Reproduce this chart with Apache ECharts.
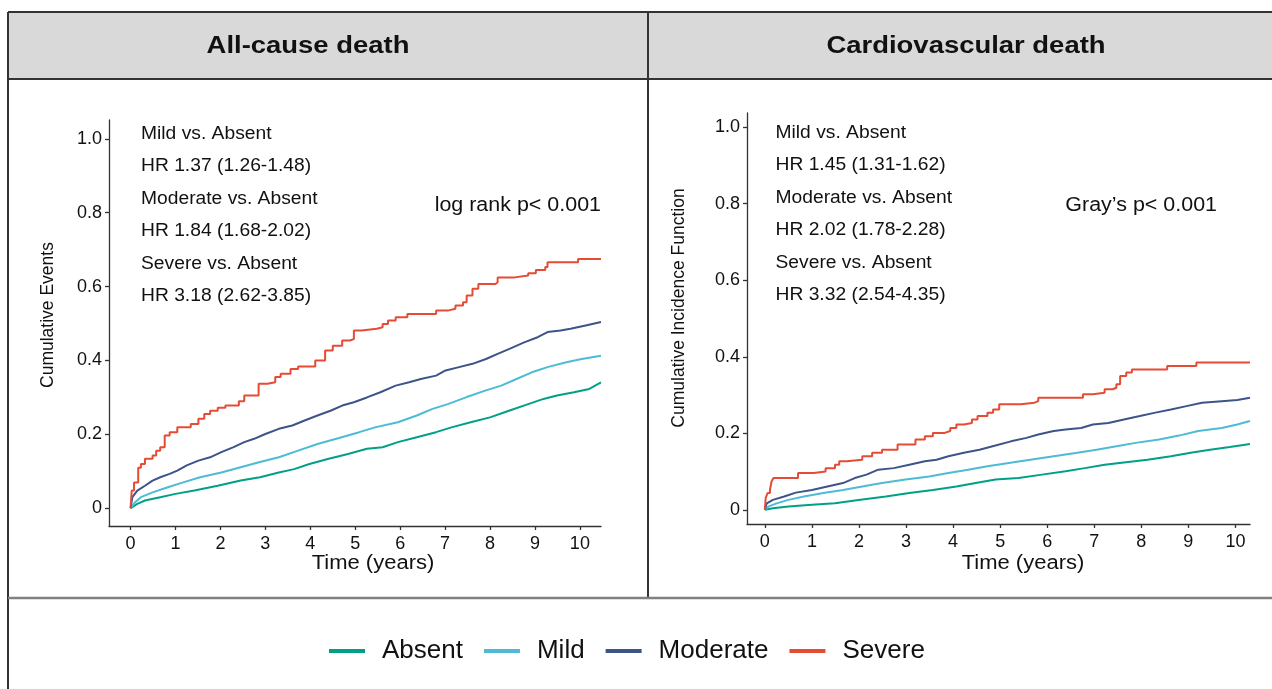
<!DOCTYPE html>
<html>
<head>
    <meta charset="utf-8">
    <title>All-cause and cardiovascular death</title>
    <script src="https://cdn.jsdelivr.net/npm/echarts@6/dist/echarts.min.js"></script>
    <style>
        html, body { margin: 0; padding: 0; background: #fff; }
        #chart { width: 1272px; height: 689px; }
    </style>
</head>
<body>
<div id="chart"></div>
<script type="text/javascript">
    // groups (legend order)
    var groups = ['Absent', 'Mild', 'Moderate', 'Severe'];
    var colors = ['#00A087', '#4DBBD5', '#3C5488', '#E64B35'];

    // tick labels
    var timeTicks = [0, 1, 2, 3, 4, 5, 6, 7, 8, 9, 10];
    var probTicks = [0, 0.2, 0.4, 0.6, 0.8, 1.0];

    // All-cause death, [years, cumulative events]
    var allAbsent = [[0,0],[0.15,0.012],[0.32,0.021],[0.66,0.03],[1.0,0.039],[1.42,0.048],[1.94,0.061],[2.45,0.075],[2.88,0.084],[3.3,0.097],[3.64,0.106],[3.98,0.12],[4.41,0.134],[4.84,0.147],[5.26,0.161],[5.61,0.165],[5.95,0.179],[6.37,0.192],[6.8,0.206],[7.14,0.219],[7.57,0.233],[8.0,0.246],[8.42,0.264],[8.85,0.282],[9.19,0.296],[9.49,0.305],[9.87,0.314],[10.21,0.323],[10.47,0.341]];
    var allMild = [[0,0],[0.1,0.016],[0.23,0.03],[0.49,0.043],[0.83,0.057],[1.17,0.07],[1.55,0.084],[2.02,0.097],[2.45,0.111],[2.88,0.125],[3.3,0.138],[3.73,0.156],[4.16,0.174],[4.58,0.188],[5.09,0.206],[5.44,0.219],[5.95,0.233],[6.37,0.251],[6.72,0.269],[7.06,0.282],[7.48,0.301],[7.91,0.319],[8.25,0.332],[8.59,0.35],[8.93,0.368],[9.28,0.382],[9.7,0.395],[10.04,0.404],[10.47,0.413]];
    var allModerate = [[0,0],[0.04,0.03],[0.15,0.048],[0.32,0.061],[0.49,0.075],[0.66,0.084],[0.87,0.093],[1.04,0.102],[1.25,0.116],[1.51,0.129],[1.77,0.138],[2.02,0.152],[2.28,0.165],[2.53,0.179],[2.75,0.188],[3.0,0.201],[3.3,0.215],[3.6,0.224],[3.86,0.237],[4.16,0.251],[4.45,0.264],[4.71,0.278],[4.97,0.287],[5.26,0.3],[5.56,0.314],[5.9,0.332],[6.2,0.341],[6.46,0.35],[6.8,0.359],[7.01,0.373],[7.31,0.382],[7.61,0.391],[7.91,0.404],[8.17,0.418],[8.42,0.431],[8.76,0.449],[9.06,0.463],[9.28,0.477],[9.57,0.481],[9.79,0.486],[10.13,0.495],[10.47,0.504]];
    var allSevere = [[0,0],[0.026,0.048],[0.077,0.07],[0.17,0.11],[0.23,0.12],[0.32,0.134],[0.49,0.143],[0.57,0.156],[0.66,0.165],[0.76,0.197],[0.87,0.206],[1.04,0.219],[1.34,0.228],[1.51,0.242],[1.64,0.255],[1.77,0.264],[1.94,0.272],[2.11,0.278],[2.41,0.29],[2.53,0.305],[2.85,0.337],[3.05,0.341],[3.22,0.355],[3.34,0.364],[3.56,0.377],[3.73,0.384],[4.11,0.4],[4.33,0.427],[4.5,0.44],[4.71,0.454],[4.88,0.458],[4.97,0.481],[5.14,0.486],[5.48,0.49],[5.61,0.499],[5.73,0.508],[5.9,0.517],[6.16,0.526],[6.8,0.535],[7.06,0.54],[7.23,0.549],[7.4,0.558],[7.48,0.576],[7.61,0.594],[7.74,0.607],[8.12,0.612],[8.17,0.625],[8.55,0.63],[8.85,0.636],[9.02,0.645],[9.23,0.653],[9.28,0.666],[9.96,0.675],[10.47,0.675]];

    // Cardiovascular death, [years, cumulative incidence]
    var cvAbsent = [[0,0],[0.17,0.004],[0.5,0.009],[1.0,0.013],[1.49,0.017],[1.99,0.026],[2.57,0.035],[3.07,0.044],[3.57,0.052],[4.07,0.061],[4.48,0.07],[4.9,0.079],[5.39,0.083],[5.89,0.092],[6.39,0.101],[6.8,0.109],[7.22,0.118],[7.63,0.124],[8.13,0.131],[8.63,0.14],[9.05,0.149],[9.46,0.157],[9.88,0.164],[10.31,0.172]];
    var cvMild = [[0,0],[0.08,0.009],[0.25,0.017],[0.5,0.026],[0.83,0.035],[1.24,0.044],[1.66,0.052],[2.07,0.061],[2.49,0.07],[2.99,0.079],[3.49,0.087],[3.9,0.096],[4.32,0.105],[4.73,0.114],[5.15,0.122],[5.64,0.131],[6.14,0.14],[6.64,0.149],[7.05,0.157],[7.47,0.166],[7.88,0.175],[8.38,0.184],[8.8,0.194],[9.21,0.206],[9.71,0.214],[10.04,0.223],[10.31,0.232]];
    var cvModerate = [[0,0],[0.04,0.017],[0.17,0.026],[0.41,0.035],[0.66,0.045],[1.0,0.052],[1.33,0.061],[1.66,0.07],[1.91,0.083],[2.16,0.092],[2.41,0.105],[2.74,0.109],[3.07,0.118],[3.4,0.127],[3.65,0.131],[3.9,0.14],[4.23,0.149],[4.56,0.157],[4.9,0.168],[5.23,0.179],[5.56,0.188],[5.81,0.197],[6.14,0.206],[6.39,0.21],[6.72,0.214],[6.97,0.223],[7.3,0.227],[7.63,0.236],[7.97,0.245],[8.3,0.254],[8.63,0.262],[8.96,0.271],[9.29,0.28],[9.71,0.284],[10.04,0.287],[10.31,0.293]];
    var cvSevere = [[0,0],[0.017,0.031],[0.058,0.044],[0.108,0.052],[0.141,0.074],[0.183,0.083],[0.705,0.096],[1.04,0.1],[1.29,0.109],[1.49,0.118],[1.58,0.127],[1.74,0.131],[2.07,0.14],[2.28,0.149],[2.49,0.157],[2.82,0.171],[3.2,0.184],[3.4,0.192],[3.57,0.201],[3.82,0.206],[3.94,0.214],[4.07,0.223],[4.23,0.227],[4.4,0.236],[4.52,0.245],[4.73,0.254],[4.85,0.262],[4.98,0.276],[5.44,0.28],[5.73,0.284],[5.81,0.293],[6.76,0.302],[6.97,0.306],[7.22,0.315],[7.39,0.319],[7.47,0.328],[7.55,0.35],[7.68,0.359],[7.8,0.367],[8.55,0.376],[9.17,0.385],[10.31,0.385]];

    // annotation text
    var allNotes = ['Mild vs. Absent', 'HR 1.37 (1.26-1.48)', 'Moderate vs. Absent', 'HR 1.84 (1.68-2.02)', 'Severe vs. Absent', 'HR 3.18 (2.62-3.85)'];
    var cvNotes = ['Mild vs. Absent', 'HR 1.45 (1.31-1.62)', 'Moderate vs. Absent', 'HR 2.02 (1.78-2.28)', 'Severe vs. Absent', 'HR 3.32 (2.54-4.35)'];

    var FONT = '"Liberation Sans", Arial, Helvetica, sans-serif';
    var myChart = echarts.init(document.getElementById('chart'));

    function axisX(idx, min, max) {
        return {
            type: 'value', gridIndex: idx, min: min, max: max,
            splitLine: { show: false },
            axisLine: { show: true, onZero: false, lineStyle: { color: '#333', width: 1.3 } },
            axisTick: { show: true, length: 4, customValues: timeTicks, lineStyle: { color: '#333', width: 1.3 } },
            axisLabel: { customValues: timeTicks, margin: 9, fontSize: 18, color: '#111', fontFamily: FONT }
        };
    }
    function axisY(idx, min, max) {
        return {
            type: 'value', gridIndex: idx, min: min, max: max,
            splitLine: { show: false },
            axisLine: { show: true, onZero: false, lineStyle: { color: '#333', width: 1.3 } },
            axisTick: { show: true, length: 4, customValues: probTicks, lineStyle: { color: '#333', width: 1.3 } },
            axisLabel: {
                customValues: probTicks, margin: 7, fontSize: 18, color: '#111', fontFamily: FONT,
                formatter: function (v) { return v === 0 ? '0' : v.toFixed(1); }
            }
        };
    }

    var panels = [[allAbsent, allMild, allModerate, allSevere], [cvAbsent, cvMild, cvModerate, cvSevere]];
    var series = [];
    panels.forEach(function (set, p) {
        set.forEach(function (d, i) {
            series.push({
                name: groups[i], type: 'line', xAxisIndex: p, yAxisIndex: p,
                data: d, symbol: 'none', step: i === 3 ? 'end' : false,
                color: colors[i], lineStyle: { width: 2, color: colors[i] },
                z: 3 + i
            });
        });
    });

    function txt(x, y, s, size, opt) {
        opt = opt || {};
        return {
            type: 'text', x: x, y: y, scaleX: opt.sx || 1.1, rotation: opt.rot || 0, z: 10,
            style: {
                text: s, fontSize: size, fontFamily: FONT, fontWeight: opt.bold ? 'bold' : 'normal',
                fill: '#111', align: opt.align || 'left', verticalAlign: 'middle'
            }
        };
    }
    function hline(x1, y1, x2, y2, c, w) {
        return { type: 'line', z: 1, shape: { x1: x1, y1: y1, x2: x2, y2: y2 }, style: { stroke: c, lineWidth: w } };
    }

    var noteY = [134, 166.5, 199, 231.5, 264, 296];
    var graphics = [
        { type: 'rect', z: 0, shape: { x: 8, y: 12, width: 1264, height: 67 }, style: { fill: '#d9d9d9' } },
        hline(8, 12, 1272, 12, '#333', 2),
        hline(8, 79, 1272, 79, '#333', 2),
        hline(8, 12, 8, 689, '#333', 2),
        hline(648, 12, 648, 598, '#333', 2),
        hline(8, 598, 1272, 598, '#808080', 2.5),
        txt(308, 46, 'All-cause death', 24.5, { bold: true, align: 'center', sx: 1.12 }),
        txt(966, 46, 'Cardiovascular death', 24.5, { bold: true, align: 'center', sx: 1.12 }),
        txt(601, 206, 'log rank p< 0.001', 19.5, { align: 'right' }),
        txt(1217, 206, 'Gray\u2019s p< 0.001', 19.5, { align: 'right' }),
        txt(373, 563, 'Time (years)', 20, { align: 'center' }),
        txt(1023, 563, 'Time (years)', 20, { align: 'center' }),
        txt(48, 315, 'Cumulative Events', 17.5, { align: 'center', rot: Math.PI / 2, sx: 1 }),
        txt(679, 308, 'Cumulative Incidence Function', 17.5, { align: 'center', rot: Math.PI / 2, sx: 1 })
    ];
    allNotes.forEach(function (s, i) { graphics.push(txt(141, noteY[i], s, 17.5)); });
    cvNotes.forEach(function (s, i) { graphics.push(txt(775.5, noteY[i] - 1, s, 17.5)); });

    var option = {
        animation: false,
        backgroundColor: '#fff',
        legend: {
            data: groups, left: 329, top: 638, padding: 0, icon: 'rect',
            itemWidth: 36, itemHeight: 4, itemGap: 21,
            textStyle: { fontSize: 26, color: '#111', fontFamily: FONT, padding: [0, 0, 0, 12] }
        },
        grid: [
            { left: 109, top: 120, width: 492, height: 406 },
            { left: 747, top: 113, width: 503, height: 411 }
        ],
        xAxis: [axisX(0, -0.48, 10.47), axisX(1, -0.38, 10.31)],
        yAxis: [axisY(0, -0.048, 1.051), axisY(1, -0.037, 1.037)],
        series: series,
        graphic: graphics
    };
    myChart.setOption(option);
</script>
</body>
</html>
